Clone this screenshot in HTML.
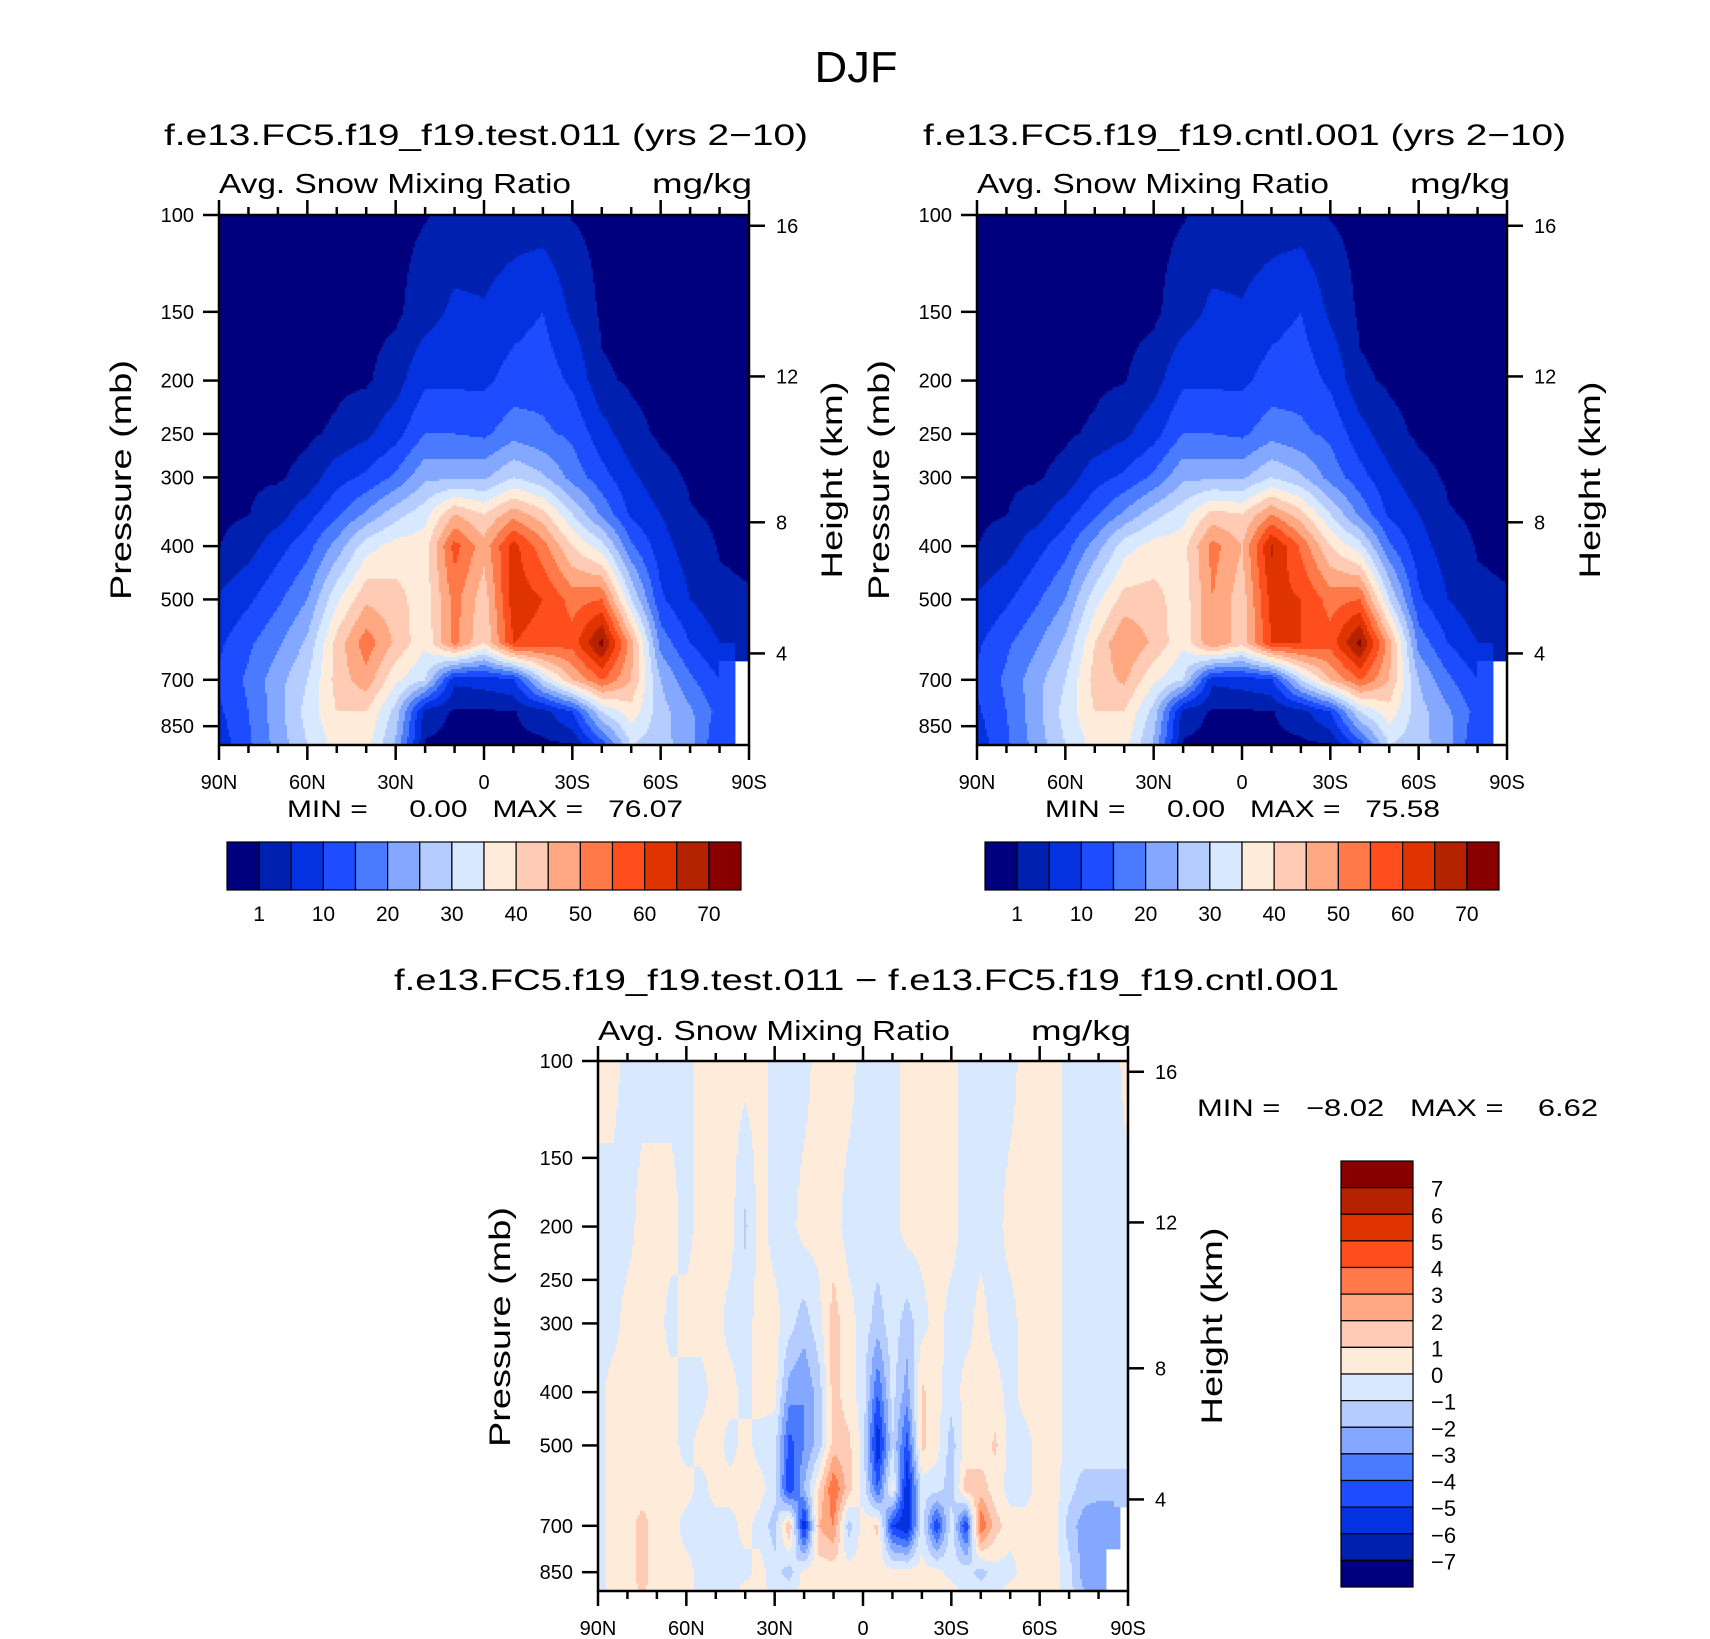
<!DOCTYPE html>
<html><head><meta charset="utf-8"><title>DJF Snow Mixing Ratio</title>
<style>
html,body{margin:0;padding:0;background:#fff;}
svg{display:block;font-family:"Liberation Sans","DejaVu Sans",sans-serif;}
</style></head>
<body>
<svg id="root" xmlns="http://www.w3.org/2000/svg" width="1710" height="1639" viewBox="0 0 1710 1639">
<rect x="0" y="0" width="1710" height="1639" fill="#fff"/>
<text x="856" y="82" font-size="44" text-anchor="middle" textLength="83" lengthAdjust="spacingAndGlyphs">DJF</text>

<text x="164" y="145" font-size="30" textLength="644" lengthAdjust="spacingAndGlyphs">f.e13.FC5.f19_f19.test.011 (yrs 2−10)</text>
<text x="219" y="193" font-size="28" textLength="352" lengthAdjust="spacingAndGlyphs">Avg. Snow Mixing Ratio</text>
<text x="752" y="193" font-size="28" text-anchor="end" textLength="100" lengthAdjust="spacingAndGlyphs">mg/kg</text>
<text transform="translate(131,480) rotate(-90)" font-size="30" text-anchor="middle" textLength="240" lengthAdjust="spacingAndGlyphs">Pressure (mb)</text>
<text transform="translate(842,480) rotate(-90)" font-size="30" text-anchor="middle" textLength="197" lengthAdjust="spacingAndGlyphs">Height (km)</text>
<text x="287" y="817" font-size="24" xml:space="preserve" textLength="396" lengthAdjust="spacingAndGlyphs">MIN =     0.00   MAX =   76.07</text>

<text x="923" y="145" font-size="30" textLength="643" lengthAdjust="spacingAndGlyphs">f.e13.FC5.f19_f19.cntl.001 (yrs 2−10)</text>
<text x="977" y="193" font-size="28" textLength="352" lengthAdjust="spacingAndGlyphs">Avg. Snow Mixing Ratio</text>
<text x="1510" y="193" font-size="28" text-anchor="end" textLength="100" lengthAdjust="spacingAndGlyphs">mg/kg</text>
<text transform="translate(889,480) rotate(-90)" font-size="30" text-anchor="middle" textLength="240" lengthAdjust="spacingAndGlyphs">Pressure (mb)</text>
<text transform="translate(1600,480) rotate(-90)" font-size="30" text-anchor="middle" textLength="197" lengthAdjust="spacingAndGlyphs">Height (km)</text>
<text x="1045" y="817" font-size="24" xml:space="preserve" textLength="395" lengthAdjust="spacingAndGlyphs">MIN =     0.00   MAX =   75.58</text>

<text x="394" y="990" font-size="30" textLength="945" lengthAdjust="spacingAndGlyphs">f.e13.FC5.f19_f19.test.011 − f.e13.FC5.f19_f19.cntl.001</text>
<text x="598" y="1040" font-size="28" textLength="352" lengthAdjust="spacingAndGlyphs">Avg. Snow Mixing Ratio</text>
<text x="1131" y="1040" font-size="28" text-anchor="end" textLength="100" lengthAdjust="spacingAndGlyphs">mg/kg</text>
<text transform="translate(510,1327) rotate(-90)" font-size="30" text-anchor="middle" textLength="240" lengthAdjust="spacingAndGlyphs">Pressure (mb)</text>
<text transform="translate(1222,1326) rotate(-90)" font-size="30" text-anchor="middle" textLength="197" lengthAdjust="spacingAndGlyphs">Height (km)</text>
<text x="1197" y="1116" font-size="24" xml:space="preserve" textLength="401" lengthAdjust="spacingAndGlyphs">MIN =   −8.02   MAX =    6.62</text>

<g id="layer"></g>
</svg>
<script>
// ---------- data ----------
const palette = ["#00007F","#0020B0","#0432E0","#1E4CFF","#4A7BFF","#84A8FF","#B4CCFF","#D8E9FF","#FFEBDA","#FFCBB4","#FFA882","#FF7A48","#FF4E1E","#E03400","#B52200","#8A0000"];
const absLevels = [1,5,10,15,20,25,30,35,40,45,50,55,60,65,70];
const absLevelLabels = ["1","10","20","30","40","50","60","70"];
const diffLevels = [-7,-6,-5,-4,-3,-2,-1,0,1,2,3,4,5,6,7];
const diffLevelLabels = ["7","6","5","4","3","2","1","0","−1","−2","−3","−4","−5","−6","−7"];
const pressureTicks = [100,150,200,250,300,400,500,700,850];
const heightTicks = [16,12,8,4];
const latTickLabels = ["90N","60N","30N","0","30S","60S","90S"];

const absPlev = [100,150,200,250,300,350,400,500,600,700,800,920];
const absLats = [90,80,70,60,50,40,30,20,10,0,-10,-20,-30,-40,-50,-60,-70,-80,-90];

const test100 = [0,0,0,0,0,0,0,0.8,2,2,2.5,2.5,0.8,0,0,0,0,0,0];
const test150 = [0,0,0,0,0,0,0.3,3,6,5.5,8,10,4,0.4,0,0,0,0,0];
const test200 = [0,0,0,0,0.4,0.5,3,9,9,9,12,13,9,1.5,0.6,0,0,0,0];
const test250 = [0,0,0,0.5,1.5,4,8,15,15,14,18,16,14,7,2,0.5,0,0,0];
const test300 = [0.3,0.5,0.6,2,8,11,16,24,24,24,30,26,18,12,6,2,0.6,0.3,0.2];
const test350 = [0.3,0.9,3,8,14,21,28,33,45,40,48,42,30,19,9,5,1.2,0.5,0.3];
const test400 = [0.9,3,8,13,22,33,37,38,57,47,62,52,40,32,16,7,2.5,0.8,0.5];
const test500 = [5.5,9,14,20,34,44,42,37,52,42,63,60,53,55,30,11,5,1.5,1.2];
const test600 = [9,14,19,26,42,53,44,36,52,40,60,58,57,72,47,18,10,5,3];
const test700 = [11,16,23,30,42,48,36,30,6,7,9,30,45,55,45,25,16,10,null];
const test800 = [9,15,23,32,40,40,28,3,0.5,0.5,0.8,3,10,30,38,27,21,13,null];
const test920 = [7,14,22,30,37,37,24,0.5,0.2,0.2,0.3,0.3,0.5,12,30,27,22,10,null];

const cntl100 = [0,0,0,0,0,0,0,0.8,2,2,2.5,2.5,0.8,0,0,0,0,0,0];
const cntl150 = [0,0,0,0,0,0,0.3,3,6,5.5,8,10,4,0.4,0,0,0,0,0];
const cntl200 = [0,0,0,0,0.4,0.8,3,9,9,9,12,13,9,1.5,0.6,0,0,0,0];
const cntl250 = [0,0,0,0.5,1.5,4,8,15,15,14,18,16,14,7,2,0.5,0,0,0];
const cntl300 = [0.3,0.5,0.6,2,8,11,16,24,24,24,30,26,18,12,6,2,0.6,0.3,0.2];
const cntl350 = [0.3,0.9,3,8,14,21,28,33,42,40,50,42,30,19,9,5,1.2,0.5,0.3];
const cntl400 = [0.9,3,8,13,22,33,37,38,52,45,66,54,40,32,16,7,2.5,0.8,0.5];
const cntl500 = [5.5,9,14,20,33,42,42,37,50,42,62,60,53,55,30,11,5,1.5,1.2];
const cntl600 = [9,14,19,26,40,50,44,36,50,42,60,60,57,72,47,18,10,5,3];
const cntl700 = [11,16,23,30,42,46,36,30,6,7,9,30,45,55,45,25,16,10,null];
const cntl800 = [9,15,23,32,40,40,28,3,0.5,0.5,0.8,3,10,30,38,27,21,13,null];
const cntl920 = [7,14,22,30,37,37,24,0.5,0.2,0.2,0.3,0.3,0.5,12,30,27,22,10,null];

const diffPlev = [100,200,300,400,500,600,700,850,920];
const diffLats = [90,85,80,75,70,65,60,55,50,45,40,35,30,25,20,15,10,5,0,-5,-10,-15,-20,-25,-30,-35,-40,-45,-50,-55,-60,-65,-70,-75,-80,-85,-90];
const diff100 = [.4,.4,-.4,-.4,-.4,-.4,-.4,.4,.4,.4,.4,.4,-.4,-.4,-.4,.4,.4,.4,-.4,-.4,-.4,.4,.4,.4,.4,-.4,-.4,-.4,-.4,.4,.4,.4,-.4,-.4,-.4,-.4,.4];
const diff200 = [-.4,-.4,-.4,.4,.4,.4,-.4,.4,.4,.4,-1.2,.4,-.4,-.4,.4,.4,.4,-.4,-.4,-.4,-.4,.4,.4,.4,.4,-.4,-.4,-.4,.4,.4,.4,.4,-.4,-.4,-.4,-.4,-.4];
const diff300 = [-.4,-.4,.4,.4,.4,-.4,.4,.4,.4,-.4,-.4,.4,.4,-.6,-1.5,-.4,1.5,.4,-.4,-1.5,-.4,-1.5,-.4,.4,-.4,-.4,.4,-.4,-.4,.4,.4,.4,-.4,-.4,-.4,-.4,-.4];
const diff400 = [-.4,.4,.4,.4,.4,.4,-.4,-.4,.4,.4,-.4,.4,.4,-2.5,-3,-1.5,1.5,.4,-.4,-4,-.6,-2.5,1.2,.4,-.6,.4,.4,.4,-.4,.4,.4,.4,-.4,-.4,-.4,-.4,-.4];
const diff500 = [-.4,.4,.4,.4,.4,.4,-.4,.4,.4,-.4,.4,-.4,-.6,-4.5,-3,-1.5,1.5,1.3,-.4,-6,-1,-4.5,1.3,.4,-1.5,.4,.4,1.2,-.4,-.4,.4,.4,-.4,-.4,-.4,-.4,-.4];
const diff600 = [-.4,.4,.4,.4,.4,.4,.4,-.4,.4,.4,.4,.4,-.6,-5,-2,1,4,1.5,-.4,-4,.5,-6,-.6,-.6,-1.5,1.5,1.5,.4,-.4,-.4,.4,.4,-.6,-1.5,-1.5,-1.5,-1.5];
const diff700 = [-.4,.4,.4,1.5,.4,.4,-.4,-.4,-.4,-.4,.4,-.4,-1.5,2,-6,2,3,-1.5,.4,1.2,-5,-6,-.4,-5,-.4,-5,4,1.5,.4,.4,.4,.4,-1.5,-2.5,-3,-3,null];
const diff850 = [-.4,.4,.4,1.5,.4,.4,.4,-.4,-.4,-.4,-.4,.4,-.6,-1.5,.4,.4,.4,.4,.4,.4,.4,.4,.4,.4,-.4,-.4,-1.5,-.4,-.4,.4,.4,.4,-.6,-2.5,-3,null,null];
const diff920 = [-.4,.4,.4,1.2,.4,.4,.4,-.4,-.4,-.4,.4,.4,-.4,-.4,.4,.4,.4,.4,.4,.4,.4,.4,.4,.4,.4,-.4,-.4,-.4,.4,.4,.4,.4,-.6,-2,-3,null,null];

const testField = [test100,test150,test200,test250,test300,test350,test400,test500,test600,test700,test800,test920];
const cntlField = [cntl100,cntl150,cntl200,cntl250,cntl300,cntl350,cntl400,cntl500,cntl600,cntl700,cntl800,cntl920];
const diffField = [diff100,diff200,diff300,diff400,diff500,diff600,diff700,diff850,diff920];

// ---------- rendering ----------
const NS = "http://www.w3.org/2000/svg";
const layer = document.getElementById("layer");
const PW = 530, PH = 530, DECADE = 550;

function mk(tag, attrs, parent){
  const el = document.createElementNS(NS, tag);
  for (const k in attrs) el.setAttribute(k, attrs[k]);
  (parent || layer).appendChild(el);
  return el;
}
function yOfP(y0, p){ return y0 + DECADE * Math.log10(p / 100); }
function xOfLat(x0, lat){ return x0 + (90 - lat) / 180 * PW; }
function pOfZ(z){
  if (z <= 11) return 1013.25 * Math.pow(1 - 0.0065 * z * 1000 / 288.15, 5.25588);
  return 226.32 * Math.exp(-(z - 11) * 1000 / 6341.6);
}
function colorIndex(v, levels){
  let k = 0; while (k < levels.length && v >= levels[k]) k++; return k;
}
function sample(field, lats, plevs, lat, p){
  const n = lats.length, d = 180 / (n - 1);
  let fi = (90 - lat) / d; let i = Math.min(n - 2, Math.max(0, Math.floor(fi))); let tx = Math.min(1, Math.max(0, fi - i));
  const lp = Math.log(p);
  let j = 0; while (j < plevs.length - 2 && Math.log(plevs[j + 1]) < lp) j++;
  let ty = (lp - Math.log(plevs[j])) / (Math.log(plevs[j + 1]) - Math.log(plevs[j]));
  ty = Math.min(1, Math.max(0, ty));
  const a = field[j][i], b = field[j][i + 1], c = field[j + 1][i], e = field[j + 1][i + 1];
  if (a === null || b === null || c === null || e === null) {
    return (ty < 0.5) ? (tx < 0.5 ? a : b) : (tx < 0.5 ? c : e);
  }
  return (a * (1 - tx) + b * tx) * (1 - ty) + (c * (1 - tx) + e * tx) * ty;
}
function drawField(name, x0, y0, field, lats, plevs, levels){
  const g = mk("g", {});
  
  
  const step = 2;
  for (let py = 0; py < PH; py += step) {
    const p = 100 * Math.pow(10, (py + step / 2) / DECADE);
    let runStart = 0, runColor = undefined;
    const flush = (endPx) => {
      if (runColor !== undefined && runColor !== null) {
        const r = mk("rect", {x: x0 + runStart, y: y0 + py, width: endPx - runStart + 0.4, height: step + 0.4, fill: runColor}, g);
        
        
      }
    };
    for (let px = 0; px < PW; px += step) {
      const lat = 90 - (px + step / 2) / PW * 180;
      const v = sample(field, lats, plevs, lat, p);
      const col = (v === null) ? null : palette[colorIndex(v, levels)];
      if (col !== runColor) { flush(px); runStart = px; runColor = col; }
    }
    flush(PW);
  }
}
function drawAxes(prefix, x0, y0){
  const g = mk("g", {});
  
  
  for (let k = 0; k <= 18; k++) {
    const lat = 90 - k * 10; const x = xOfLat(x0, lat);
    const major = (k % 3 === 0); const L = major ? 15 : 8;
    const t1 = mk("line", {x1: x, x2: x, y1: y0 + PH, y2: y0 + PH + L, stroke: "#000", "stroke-width": 2.5}, g);
    
    
    const t2 = mk("line", {x1: x, x2: x, y1: y0, y2: y0 - L, stroke: "#000", "stroke-width": 2.5}, g);
    
    
    if (major) {
      const tx = mk("text", {x: x, y: y0 + PH + 44, "font-size": 20, "text-anchor": "middle"}, g);
      tx.textContent = latTickLabels[k / 3];
      
      
    }
  }
  pressureTicks.forEach(p => {
    const y = yOfP(y0, p);
    const t = mk("line", {x1: x0 - 16, x2: x0, y1: y, y2: y, stroke: "#000", "stroke-width": 2.5}, g);
    
    
    const tx = mk("text", {x: x0 - 25, y: y + 7, "font-size": 20, "text-anchor": "end"}, g);
    tx.textContent = String(p);
    
    
  });
  heightTicks.forEach(z => {
    const y = yOfP(y0, pOfZ(z)) + 4;
    const t = mk("line", {x1: x0 + PW, x2: x0 + PW + 16, y1: y, y2: y, stroke: "#000", "stroke-width": 2.5}, g);
    
    
    const tx = mk("text", {x: x0 + PW + 27, y: y + 7, "font-size": 20}, g);
    tx.textContent = String(z);
    
    
  });
  const fr = mk("rect", {x: x0, y: y0, width: PW, height: PH, fill: "none", stroke: "#000", "stroke-width": 2.5}, g);
  
  
}
function drawHBar(prefix, x0, y0, w, h){
  const g = mk("g", {});
  
  
  const bw = w / palette.length;
  palette.forEach((c, k) => {
    const r = mk("rect", {x: x0 + k * bw, y: y0, width: bw, height: h, fill: c, stroke: "#000", "stroke-width": 1.2}, g);
    
    
  });
  absLevelLabels.forEach((lab, m) => {
    const t = mk("text", {x: x0 + (2 * m + 1) * bw, y: y0 + h + 31, "font-size": 21, "text-anchor": "middle"}, g);
    t.textContent = lab;
    
    
  });
}
function drawVBar(x0, y0, w, h){
  const g = mk("g", {});
  
  
  const bh = h / palette.length;
  for (let k = 0; k < palette.length; k++) {
    const r = mk("rect", {x: x0, y: y0 + k * bh, width: w, height: bh, fill: palette[palette.length - 1 - k], stroke: "#000", "stroke-width": 1.2}, g);
    
    
  }
  diffLevelLabels.forEach((lab, m) => {
    const t = mk("text", {x: x0 + w + 18, y: y0 + (m + 1) * bh + 9, "font-size": 22}, g);
    t.textContent = lab;
    
    
  });
}

drawField("test-contour-field", 219, 215, testField, absLats, absPlev, absLevels);
drawAxes("test", 219, 215);
drawHBar("test", 227, 842, 514, 48);

drawField("cntl-contour-field", 977, 215, cntlField, absLats, absPlev, absLevels);
drawAxes("cntl", 977, 215);
drawHBar("cntl", 985, 842, 514, 48);

drawField("diff-contour-field", 598, 1061, diffField, diffLats, diffPlev, diffLevels);
drawAxes("diff", 598, 1061);
drawVBar(1341, 1161, 72, 426);
</script>
</body></html>
